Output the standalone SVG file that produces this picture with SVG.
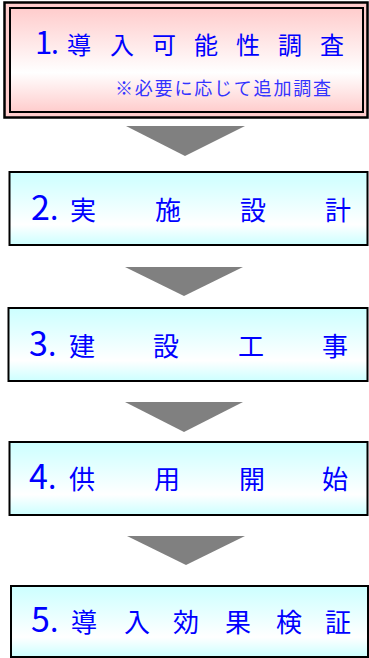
<svg xmlns="http://www.w3.org/2000/svg" width="369" height="658" viewBox="0 0 369 658">
<defs>
<linearGradient id="gc" x1="0" y1="0" x2="0" y2="1">
<stop offset="0" stop-color="#CCFFFF"/>
<stop offset="0.72" stop-color="#FFFFFF"/>
<stop offset="1" stop-color="#CCFFFF"/>
</linearGradient>
<linearGradient id="gp" x1="0" y1="0" x2="0" y2="1">
<stop offset="0" stop-color="#FFCCCC"/>
<stop offset="0.62" stop-color="#FFFFFF"/>
<stop offset="1" stop-color="#FFCCCC"/>
</linearGradient>
<style>
.box{fill:url(#gc);stroke:#000;stroke-width:2}
.lbl{font-family:"Noto Sans CJK JP","Noto Sans CJK SC",sans-serif;fill:#0000FF}
.k{font-size:26px}
.k1{font-size:24px}
.d{font-size:34px}
.p{font-size:30px}
.sub{font-size:18px;fill:#3333FF;letter-spacing:1.8px}
.arr{fill:#808080}
</style>
</defs>
<g id="connectors">
<polygon class="arr" points="126,126 245,126 185,156"/>
<polygon class="arr" points="125,267 243,267 184,296"/>
<polygon class="arr" points="125,402 243,402 184,432"/>
<polygon class="arr" points="127,536 245,536 186,565"/>
</g>
<g id="node1">
<rect x="4.5" y="2.5" width="363" height="115" fill="#FFCCCC" stroke="#000" stroke-width="2.5"/>
<rect x="10" y="8" width="353" height="104" fill="url(#gp)" stroke="#000" stroke-width="2"/>
<text class="lbl k1" y="54"><tspan x="35" style="font-size:31px">1</tspan><tspan x="51" style="font-size:28px">.</tspan><tspan x="67 110 152 194 236 278 320">導入可能性調査</tspan></text>
<text class="lbl sub" x="115" y="95">※必要に応じて追加調査</text>
</g>
<g id="node2">
<rect class="box" x="9.5" y="172" width="358" height="73"/>
<text class="lbl k" y="220"><tspan x="31" class="d">2</tspan><tspan x="50" class="p">.</tspan><tspan x="70 155 240 325">実施設計</tspan></text>
</g>
<g id="node3">
<rect class="box" x="8.5" y="308" width="359" height="73"/>
<text class="lbl k" y="356"><tspan x="29" class="d">3</tspan><tspan x="48" class="p">.</tspan><tspan x="69 153 238 322">建設工事</tspan></text>
</g>
<g id="node4">
<rect class="box" x="9.5" y="442" width="358" height="73"/>
<text class="lbl k" y="489"><tspan x="29" class="d">4</tspan><tspan x="48" class="p">.</tspan><tspan x="69 154 239 322">供用開始</tspan></text>
</g>
<g id="node5">
<rect class="box" x="11" y="586" width="357" height="71"/>
<text class="lbl k" y="632"><tspan x="31" class="d">5</tspan><tspan x="50" class="p">.</tspan><tspan x="71 124 173 225 276 325">導入効果検証</tspan></text>
</g>
</svg>
